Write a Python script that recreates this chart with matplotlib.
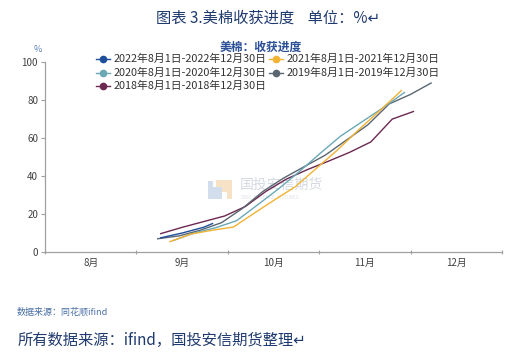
import matplotlib
matplotlib.use("Agg")
import matplotlib.pyplot as plt
from matplotlib.lines import Line2D
from matplotlib.patches import Rectangle

plt.rcParams['font.family'] = ['Noto Sans CJK SC', 'DejaVu Sans']

# weekly harvest progress, %  (dates as MM-DD)
dates_2022 = ["09-09", "09-16", "09-23", "09-26"]
vals_2022 = [7.5, 10, 13, 15]

dates_2021 = ["09-12", "09-19", "09-26", "10-03", "10-10", "10-17", "10-24",
              "10-31", "11-07", "11-14", "11-21", "11-28"]
vals_2021 = [5.5, 9.5, 11.5, 13.2, 20.5, 27.6, 34.5, 44, 53.7, 64.4, 74.6, 85]

dates_2020 = ["09-13", "09-20", "09-27", "10-04", "10-11", "10-18", "10-25",
              "11-01", "11-08", "11-15", "11-22", "11-29"]
vals_2020 = [6, 10, 12.8, 16.5, 24.7, 33, 42, 51.5, 61, 68.5, 76, 84]

dates_2019 = ["09-08", "09-15", "09-22", "09-29", "10-06", "10-13", "10-20",
              "10-27", "11-03", "11-10", "11-17", "11-24", "12-01", "12-08"]
vals_2019 = [7, 8.5, 11.5, 15.5, 23, 32, 39, 45, 51, 59, 67, 78, 83, 89]

dates_2018 = ["09-09", "09-16", "09-23", "09-30", "10-07", "10-14", "10-21",
              "10-28", "11-04", "11-11", "11-18", "11-25", "12-02"]
vals_2018 = [9.7, 13, 16, 19, 24, 32, 38.5, 43.4, 47.8, 52.5, 58, 70, 74]

labels = ["2022年8月1日-2022年12月30日", "2021年8月1日-2021年12月30日",
          "2020年8月1日-2020年12月30日", "2019年8月1日-2019年12月30日",
          "2018年8月1日-2018年12月30日"]
colors = ["#1F4E9C", "#F2B233", "#6AA8B6", "#5A6670", "#6B2850"]
month_labels = ["8月", "9月", "10月", "11月", "12月"]

series = [(dates_2022, vals_2022), (dates_2021, vals_2021), (dates_2020, vals_2020),
          (dates_2019, vals_2019), (dates_2018, vals_2018)]


def mpos(s):
    m, d = map(int, s.split("-"))
    dim = {8: 31, 9: 30, 10: 31, 11: 30, 12: 31}[m]
    return (m - 8) + (d - 1) / dim


fig = plt.figure(figsize=(5.18, 3.57), dpi=100)
ax = fig.add_axes([0.0869, 0.294, 0.882, 0.532])

# faint watermark logo + name
ax.add_patch(Rectangle((1.87, 31.5), 0.18, 6.5, color="#F8E2C6", zorder=0, lw=0))
ax.add_patch(Rectangle((1.99, 28.0), 0.06, 4.0, color="#F8E2C6", zorder=0, lw=0))
ax.add_patch(Rectangle((1.78, 28.0), 0.16, 6.5, color="#D3DEEC", zorder=0, lw=0))
ax.add_patch(Rectangle((1.78, 34.0), 0.06, 3.5, color="#D3DEEC", zorder=0, lw=0))
ax.text(2.13, 35.5, "国投安信期货", fontsize=10, color="#D5DAE2", va="center",
        ha="left", zorder=0)
ax.text(2.15, 28.5, "SDIC  ESSENCE  FUTURES", fontsize=3.5, color="#DDE1E7",
        va="center", ha="left", zorder=0)

# draw oldest first so newest is on top
for (d, v), c in list(zip(series, colors))[::-1]:
    ax.plot([mpos(s) for s in d], v, color=c, lw=1.0, zorder=2)

ax.set_xlim(0, 5)
ax.set_ylim(0, 100)
ax.set_yticks(range(0, 101, 20))
ax.set_xticks(range(0, 6))
ax.set_xticklabels([])
ax.set_xticks([i + 0.5 for i in range(5)], minor=True)
ax.set_xticklabels(month_labels, minor=True)
ax.tick_params(axis="x", which="minor", length=0, pad=4, labelsize=7, labelcolor="#404040")
ax.tick_params(axis="x", which="major", length=3, direction="inout", color="#A0A0A0")
ax.tick_params(axis="y", length=3, color="#A0A0A0", labelsize=7, labelcolor="#404040", pad=2)
for s in ["top", "right"]:
    ax.spines[s].set_visible(False)
for s in ["left", "bottom"]:
    ax.spines[s].set_color("#A0A0A0")
    ax.spines[s].set_linewidth(0.9)

# titles
fig.text(0.517, 0.948, "图表 3.美棉收获进度    单位：%↵", ha="center", va="center",
         fontsize=11, color="#1F3A6E")
fig.text(0.503, 0.868, "美棉：收获进度", ha="center", va="center", fontsize=8.5,
         fontweight="bold", color="#2A4F96")
fig.text(0.073, 0.862, "%", ha="center", va="center", fontsize=6.5, color="#5B7DB8")

# manual legend (2 columns)
pos = [(103, 59), (276, 59), (103, 72.7), (276, 72.7), (103, 86)]
for (px, py), lab, c in zip(pos, labels, colors):
    x0, y0 = px / 518, 1 - py / 357
    fig.add_artist(Line2D([x0 - 0.013, x0, x0 + 0.013], [y0, y0, y0], color=c, lw=1.0,
                          marker="o", markersize=4.5, markevery=[1], zorder=5))
    fig.text(x0 + 0.021, y0, lab, ha="left", va="center", fontsize=7.8, color="#333333")

fig.text(0.033, 0.125, "数据来源：同花顺ifind", ha="left", va="center", fontsize=6.5,
         color="#4A6FA5")
fig.text(0.033, 0.047, "所有数据来源：ifind，国投安信期货整理↵", ha="left", va="center",
         fontsize=11, color="#1F3A6E", style="italic")

fig.savefig("out.png", dpi=100)
